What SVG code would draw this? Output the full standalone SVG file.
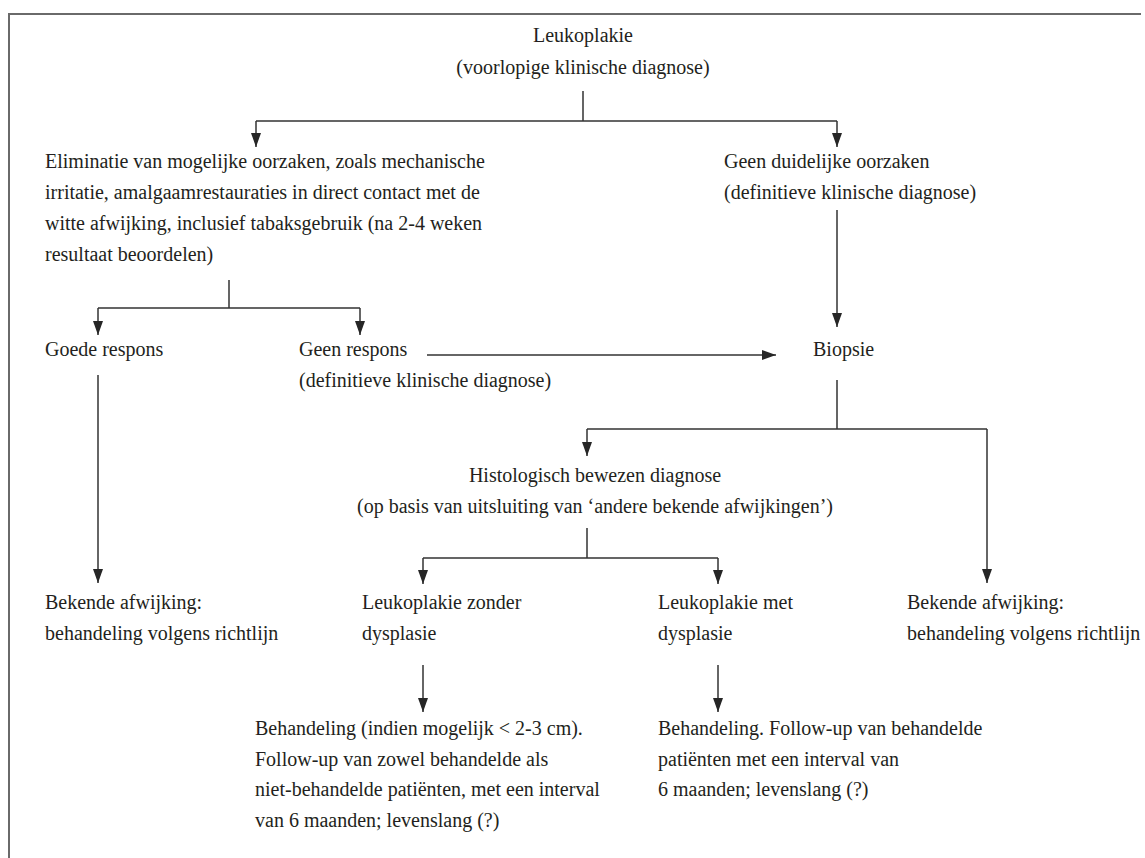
<svg xmlns="http://www.w3.org/2000/svg" width="1145" height="858" viewBox="0 0 1145 858">
<defs>
<marker id="ah" markerUnits="userSpaceOnUse" markerWidth="14" markerHeight="10" refX="14" refY="5" orient="auto">
<path d="M0,0 L14,5 L0,10 z" fill="#262626"/>
</marker>
<style>
text{font-family:"Liberation Serif","Times New Roman",serif;font-size:20px;fill:#231f20}
.c{text-anchor:middle}
.ln{fill:none;stroke:#333;stroke-width:1.5}
.ar{fill:none;stroke:#333;stroke-width:1.5;marker-end:url(#ah)}
.frame{fill:none;stroke:#6a6a6a;stroke-width:2}
</style>
</defs>
<rect width="1145" height="858" fill="#fff"/>
<path class="frame" d="M9,858 V14 H1141"/>
<g id="connectors">
<path class="ln" d="M583,91 V121 M256,121 H837"/>
<path class="ar" d="M256,121 V147"/>
<path class="ar" d="M837,121 V147"/>
<path class="ln" d="M229,280 V308 M98,308 H360"/>
<path class="ar" d="M98,308 V335"/>
<path class="ar" d="M360,308 V335"/>
<path class="ar" d="M427,355 H776"/>
<path class="ar" d="M837,210 V327"/>
<path class="ar" d="M98,375 V583"/>
<path class="ln" d="M837,380 V429 M587,429 H987"/>
<path class="ar" d="M587,429 V456"/>
<path class="ar" d="M987,429 V583"/>
<path class="ln" d="M587,528 V558 M423,558 H718"/>
<path class="ar" d="M423,558 V584"/>
<path class="ar" d="M718,558 V584"/>
<path class="ar" d="M423,665 V712"/>
<path class="ar" d="M718,665 V712"/>
</g>
<g id="n-leukoplakie">
<text class="c" x="583" y="42">Leukoplakie</text>
<text class="c" x="583" y="73.5">(voorlopige klinische diagnose)</text>
</g>
<g id="n-eliminatie">
<text x="45" y="168">Eliminatie van mogelijke oorzaken, zoals mechanische</text>
<text x="45" y="199">irritatie, amalgaamrestauraties in direct contact met de</text>
<text x="45" y="230">witte afwijking, inclusief tabaksgebruik (na 2-4 weken</text>
<text x="45" y="261">resultaat beoordelen)</text>
</g>
<g id="n-geen-oorzaken">
<text x="724" y="168">Geen duidelijke oorzaken</text>
<text x="724" y="199">(definitieve klinische diagnose)</text>
</g>
<g id="n-goede-respons">
<text x="45" y="356">Goede respons</text>
</g>
<g id="n-geen-respons">
<text x="299" y="356">Geen respons</text>
<text x="299" y="387">(definitieve klinische diagnose)</text>
</g>
<g id="n-biopsie">
<text x="813" y="356">Biopsie</text>
</g>
<g id="n-histologisch">
<text class="c" x="595" y="482">Histologisch bewezen diagnose</text>
<text class="c" x="595" y="513">(op basis van uitsluiting van ‘andere bekende afwijkingen’)</text>
</g>
<g id="n-bekend-links">
<text x="45" y="609">Bekende afwijking:</text>
<text x="45" y="640">behandeling volgens richtlijn</text>
</g>
<g id="n-zonder">
<text x="362" y="609">Leukoplakie zonder</text>
<text x="362" y="640">dysplasie</text>
</g>
<g id="n-met">
<text x="658" y="609">Leukoplakie met</text>
<text x="658" y="640">dysplasie</text>
</g>
<g id="n-bekend-rechts">
<text x="907" y="609">Bekende afwijking:</text>
<text x="907" y="640">behandeling volgens richtlijn</text>
</g>
<g id="n-behandeling-zonder">
<text x="255" y="735">Behandeling (indien mogelijk &lt; 2-3 cm).</text>
<text x="255" y="765.5">Follow-up van zowel behandelde als</text>
<text x="255" y="796">niet-behandelde patiënten, met een interval</text>
<text x="255" y="826.5">van 6 maanden; levenslang (?)</text>
</g>
<g id="n-behandeling-met">
<text x="658" y="735">Behandeling. Follow-up van behandelde</text>
<text x="658" y="765.5">patiënten met een interval van</text>
<text x="658" y="796">6 maanden; levenslang (?)</text>
</g>
</svg>
